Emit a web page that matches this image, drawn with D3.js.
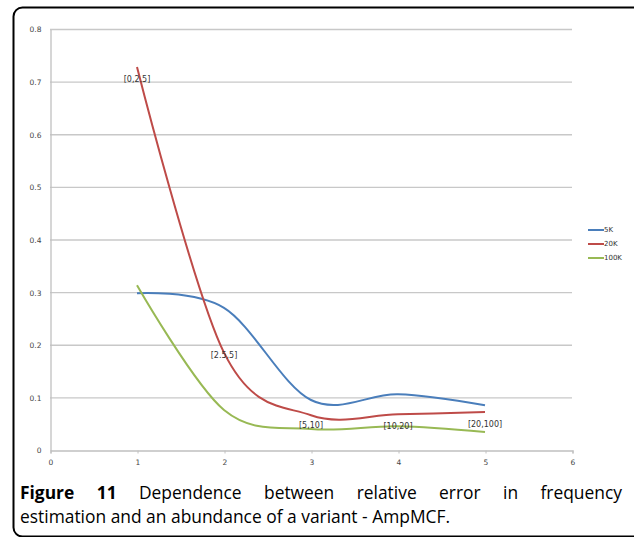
<!DOCTYPE html>
<html>
<head>
<meta charset="utf-8">
<script src="https://cdn.jsdelivr.net/npm/d3@7"></script>
<style>
  html, body { margin: 0; padding: 0; background: #fff; }
  svg { display: block; }
</style>
</head>
<body>
<svg id="chart" width="634" height="537"></svg>
<script>
// ---- data ----
const xValues = [1, 2, 3, 4, 5];
const categoryLabels = ["[0,2.5]", "[2.5,5]", "[5,10]", "[10,20]", "[20,100]"];
const categoryLabelY = [0.705, 0.18, 0.047, 0.046, 0.049];
const seriesNames = ["5K", "20K", "100K"];
const seriesColors = ["#4a7ebb", "#be4b48", "#98b954"];
const values5K = [0.298, 0.27, 0.095, 0.106, 0.085];
const values20K = [0.728, 0.185, 0.066, 0.068, 0.072];
const values100K = [0.313, 0.076, 0.040, 0.045, 0.034];
const xTicks = [0, 1, 2, 3, 4, 5, 6];
const yTicks = [0, 0.1, 0.2, 0.3, 0.4, 0.5, 0.6, 0.7, 0.8];
const captionBold = "Figure 11";
const captionLine1 = " Dependence between relative error in frequency";
const captionLine2 = "estimation and an abundance of a variant - AmpMCF.";

const seriesValues = [values5K, values20K, values100K];

const svg = d3.select("#chart");

// frame
svg.append("rect")
  .attr("x", 13.5).attr("y", 7.5)
  .attr("width", 630).attr("height", 529)
  .attr("rx", 9).attr("ry", 9)
  .attr("fill", "none").attr("stroke", "#000").attr("stroke-width", 2);

const x = d3.scaleLinear().domain([0, 6]).range([50, 572]);
const y = d3.scaleLinear().domain([0, 0.8]).range([450, 29]);

// gridlines
svg.append("g")
  .selectAll("line")
  .data(yTicks.filter(d => d > 0))
  .join("line")
  .attr("x1", x(0)).attr("x2", x(6))
  .attr("y1", d => y(d) + 0.5).attr("y2", d => y(d) + 0.5)
  .attr("stroke", "#c8c8c8").attr("stroke-width", 1.3);

// y axis
const yAxis = svg.append("g")
  .attr("transform", `translate(${x(0) + 0.5},0.5)`)
  .call(d3.axisLeft(y).tickValues(yTicks).tickSize(0).tickPadding(9)
    .tickFormat(d => d === 0 ? "0" : d3.format(".1f")(d)));
yAxis.select(".domain").attr("stroke", "#c0c0c0").attr("stroke-width", 1.3);
yAxis.selectAll("text").attr("font-family", "DejaVu Sans, sans-serif").attr("font-size", 7.5).attr("fill", "#444");

// x axis
const xAxis = svg.append("g")
  .attr("transform", `translate(0.5,${y(0) + 0.5})`)
  .call(d3.axisBottom(x).tickValues(xTicks).tickSize(3).tickPadding(6)
    .tickFormat(d3.format("d")));
xAxis.select(".domain").attr("stroke", "#c0c0c0").attr("stroke-width", 1.3);
xAxis.selectAll("line").attr("stroke", "#c0c0c0");
xAxis.selectAll("text").attr("font-family", "DejaVu Sans, sans-serif").attr("font-size", 7.5).attr("fill", "#444");

// lines
const line = d3.line()
  .x((d, i) => x(xValues[i]))
  .y(d => y(d))
  .curve(d3.curveCardinal.tension(0));

svg.append("g")
  .selectAll("path")
  .data(seriesValues)
  .join("path")
  .attr("d", d => line(d))
  .attr("fill", "none")
  .attr("stroke", (d, i) => seriesColors[i])
  .attr("stroke-width", 2);

// category labels
svg.append("g")
  .selectAll("text")
  .data(categoryLabels)
  .join("text")
  .attr("x", (d, i) => x(xValues[i]))
  .attr("y", (d, i) => y(categoryLabelY[i]))
  .attr("dy", "0.35em")
  .attr("text-anchor", "middle")
  .attr("font-family", "DejaVu Sans, sans-serif")
  .attr("font-size", 8)
  .attr("fill", "#333")
  .text(d => d);

// legend
const legend = svg.append("g")
  .selectAll("g")
  .data(seriesNames)
  .join("g")
  .attr("transform", (d, i) => `translate(588,${230 + i * 14})`);
legend.append("line")
  .attr("x1", 0).attr("x2", 16)
  .attr("stroke", (d, i) => seriesColors[i]).attr("stroke-width", 2);
legend.append("text")
  .attr("x", 16).attr("dy", "0.35em")
  .attr("font-family", "DejaVu Sans, sans-serif")
  .attr("font-size", 7)
  .attr("fill", "#333")
  .text(d => d);

// caption
const capSize = 17.4;
const cap1 = svg.append("text")
  .attr("x", 20).attr("y", 499)
  .attr("font-family", "Open Sans, sans-serif")
  .attr("font-size", capSize)
  .attr("fill", "#000");
cap1.append("tspan").attr("font-weight", "bold").text(captionBold);
cap1.append("tspan").text(captionLine1);
// justify line 1 to the right edge
const targetWidth = 602;
const natural = cap1.node().getComputedTextLength();
const nSpaces = (captionBold + captionLine1).split(" ").length - 1;
cap1.attr("word-spacing", Math.max(0, (targetWidth - natural) / nSpaces));

svg.append("text")
  .attr("x", 20).attr("y", 523)
  .attr("font-family", "Open Sans, sans-serif")
  .attr("font-size", capSize)
  .attr("fill", "#000")
  .text(captionLine2);
</script>
</body>
</html>
